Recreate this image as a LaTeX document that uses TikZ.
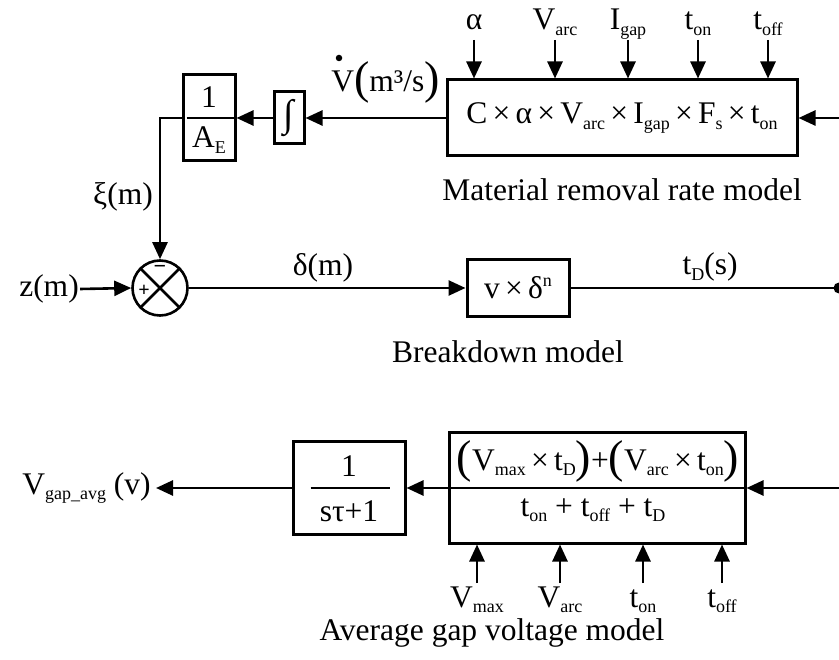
\documentclass[tikz,border=0pt]{standalone}
\usepackage{fontspec}
\setmainfont{Liberation Serif}
\usetikzlibrary{arrows.meta}
\newcommand\sbx[1]{\raisebox{-0.38ex}{\fontsize{18}{19}\selectfont #1}}
\newcommand\spx[1]{\raisebox{0.85ex}{\fontsize{18}{19}\selectfont #1}}
\newcommand\bigp[1]{{\fontsize{46}{46}\selectfont\raisebox{-0.08ex}{#1}}}
\begin{document}
\begin{tikzpicture}[x=1pt,y=-1pt, line width=2.6pt,
  every node/.style={font=\fontsize{31.5}{35}\selectfont, inner sep=0pt},
  blk/.style={draw, line width=3pt, inner sep=0pt},
  arr/.style={-{Triangle[length=17pt,width=15pt]}},
  frac/.style={line width=2.2pt}]
\useasboundingbox (0,0) rectangle (839,660);

% ---------- Material removal rate model ----------
\node[blk, minimum width=350pt, minimum height=76pt] (mrr) at (622,118)
  {C\,×\,α\,×\,V\sbx{arc}\,×\,I\sbx{gap}\,×\,F\sbx{s}\,×\,t\sbx{on}};
\node (mrrl) at (622,190) {Material removal rate model};
\coordinate (topy) at (0,40);
\node[anchor=base] (ia) at (474,30) {α};
\node[anchor=base] (ib) at (555,30) {V\sbx{arc}};
\node[anchor=base] (ic) at (628,30) {I\sbx{gap}};
\node[anchor=base] (id) at (698,30) {t\sbx{on}};
\node[anchor=base] (ie) at (768,30) {t\sbx{off}};
\foreach \n in {ia,ib,ic,id,ie}
  \draw[arr] (\n |- topy) -- (\n |- mrr.north);
\coordinate (rin1) at (839,118);
\draw[arr] (rin1) -- (mrr.east);

\node[blk, minimum width=30pt, minimum height=52pt] (int) at (289,118)
  {\fontsize{38}{38}\selectfont ∫};
\node[anchor=west] (vd) at (330,82) {V\bigp(m³/s\bigp)};
\node[circle, fill, minimum size=6.5pt] (vdm) at (339,58) {};
\draw[arr] (mrr.west) -- (int.east);

\node[blk, minimum width=52pt, minimum height=86pt] (ae) at (209,118) {};
\node (ae1) at (209,97) {1};
\node (ae2) at (209,140) {A\sbx{E}};
\draw[frac] ([xshift=5pt]ae.west) -- ([xshift=-3pt]ae.east);
\draw[arr] (int.west) -- (ae.east);

% ---------- summing junction ----------
\node[draw, circle, minimum size=55pt, line width=2.6pt] (sum) at (160,288) {};
\draw (sum.north west) -- (sum.south east);
\draw (sum.north east) -- (sum.south west);
\node[font=\fontsize{22}{22}\selectfont\bfseries] (mi) at (160,269) {−};
\node[font=\fontsize{20}{20}\selectfont\bfseries] (pl) at (144,291) {+};
\draw[arr] (ae.west) -| (sum.north);
\node (xi) at (123,197) {ξ(m)};
\node (zl) at (49,289) {z(m)};
\draw[arr] (zl.east) -- (sum.west);

% ---------- Breakdown model ----------
\node[blk, minimum width=102pt, minimum height=57pt] (bd) at (518,288) {v\,×\,δ\spx{n}};
\node (bdl) at (508,352) {Breakdown model};
\node (dl) at (323,268) {δ(m)};
\draw[arr] (sum.east) -- (bd.west);
\node (tdl) at (710,267) {t\sbx{D}(s)};
\node[circle, fill, minimum size=11pt] (dot) at (839,288) {};
\draw (bd.east) -- (dot.center);

% ---------- Average gap voltage model ----------
\node[blk, minimum width=296pt, minimum height=110pt] (avg) at (597,488) {};
\node (num) at (598,461)
  {\bigp(V\sbx{max}\,×\,t\sbx{D}\bigp)+\bigp(V\sbx{arc}\,×\,t\sbx{on}\bigp)};
\node (den) at (593,510) {t\sbx{on} + t\sbx{off} + t\sbx{D}};
\draw[frac] (avg.west) -- (avg.east);
\coordinate (rin2) at (839,488);
\draw[arr] (rin2) -- (avg.east);
\coordinate (boty) at (0,583);
\node[anchor=base] (ba) at (477,607) {V\sbx{max}};
\node[anchor=base] (bb) at (560,607) {V\sbx{arc}};
\node[anchor=base] (bc) at (643,607) {t\sbx{on}};
\node[anchor=base] (be) at (722,607) {t\sbx{off}};
\foreach \n in {ba,bb,bc,be}
  \draw[arr] (\n |- boty) -- (\n |- avg.south);
\node (avgl) at (492,633) {Average gap voltage model};

\node[blk, minimum width=112pt, minimum height=93pt] (tf) at (349,488) {};
\node (tf1) at (349,466) {1};
\node (tf2) at (349,511) {sτ+1};
\draw[frac] ([xshift=19pt]tf.west) -- ([xshift=-17pt]tf.east);
\draw[arr] (avg.west) -- (tf.east);
\node[anchor=east] (vo) at (152,488) {V\sbx{gap\_avg} (v)};
\draw[arr, shorten >=4pt] (tf.west) -- (vo.east);
\end{tikzpicture}
\end{document}
